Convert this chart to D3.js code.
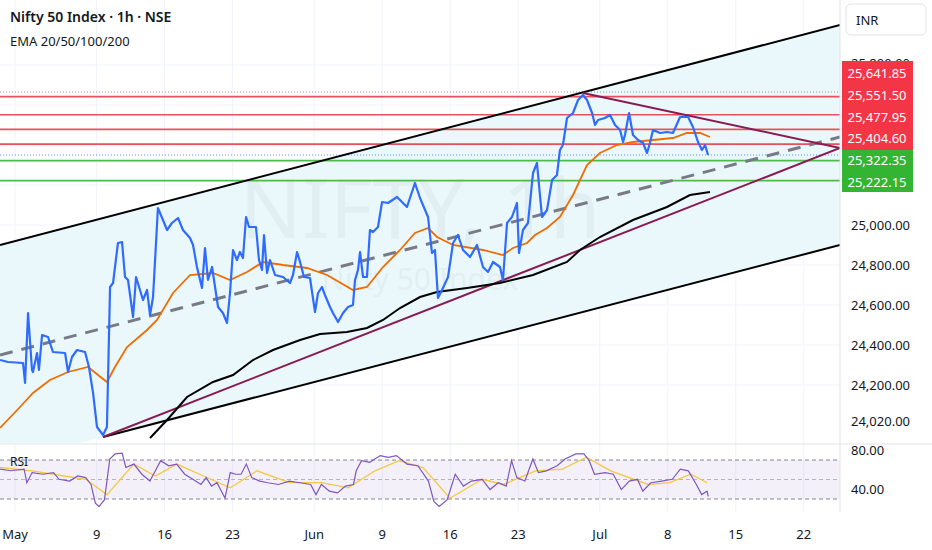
<!DOCTYPE html>
<html><head><meta charset="utf-8">
<script src="https://cdn.jsdelivr.net/npm/d3@7"></script>
<style>body{margin:0;background:#fff}svg{display:block;font-family:"Noto Sans",Roboto,sans-serif}</style>
</head><body><svg id="c" width="932" height="550"></svg>
<script>
// x in trading days from May 1
const xTicks=[["May",0],["9",6],["16",11],["23",16],["Jun",22],["9",27],["16",32],["23",37],["Jul",43],["8",48],["15",53],["22",58]];
const priceTicks=[25800,25000,24800,24600,24400,24200,24020];
const price=[[-1.10,24325],[-0.51,24315],[0.59,24310],[0.74,24210],[0.96,24560],[1.25,24275],[1.32,24265],[1.62,24360],[1.76,24275],[1.99,24450],[2.43,24440],[2.79,24365],[3.68,24360],[3.90,24265],[4.19,24340],[4.56,24375],[5.15,24365],[5.44,24290],[5.74,24160],[6.03,23990],[6.47,23950],[6.76,23990],[6.99,24690],[7.21,24710],[7.57,24910],[7.87,24915],[8.09,24740],[8.31,24725],[8.68,24540],[8.90,24740],[9.19,24675],[9.41,24625],[9.71,24675],[9.93,24550],[10.15,24640],[10.51,25085],[10.88,25025],[11.18,24975],[11.54,25010],[11.99,25035],[12.35,24975],[12.87,24935],[13.09,24900],[13.38,24790],[13.75,24685],[13.97,24885],[14.19,24725],[14.49,24790],[14.93,24590],[15.29,24560],[15.59,24510],[15.81,24660],[16.03,24875],[16.32,24825],[16.54,24865],[16.76,24835],[16.99,25040],[17.21,24990],[17.72,24990],[17.94,24825],[18.16,24775],[18.31,24950],[18.53,24760],[18.75,24825],[19.12,24750],[19.71,24740],[20.22,24710],[20.44,24750],[20.74,24865],[20.96,24815],[21.25,24740],[21.69,24735],[22.06,24565],[22.28,24660],[22.57,24690],[22.79,24650],[23.16,24590],[23.38,24560],[23.75,24515],[24.12,24560],[24.49,24590],[24.85,24600],[25.00,24725],[25.22,24775],[25.37,24865],[25.59,24740],[25.88,24740],[26.10,24975],[26.32,24965],[26.69,24990],[26.99,25115],[27.43,25110],[28.09,25140],[28.82,25090],[29.41,25210],[29.78,25135],[30.37,25040],[30.66,24860],[30.88,24875],[31.10,24635],[31.40,24675],[31.84,24740],[32.21,24910],[32.57,24950],[32.94,24875],[33.46,24840],[33.97,24900],[34.41,24790],[34.78,24765],[35.15,24815],[35.66,24790],[35.88,24725],[36.18,25010],[36.54,25040],[36.91,25110],[37.06,24860],[37.35,24975],[37.72,25010],[38.09,25260],[38.38,25310],[38.75,25040],[39.12,25075],[39.49,25225],[39.85,25250],[40.07,25375],[40.29,25400],[40.59,25535],[41.03,25560],[41.40,25625],[41.76,25650],[42.06,25625],[42.43,25560],[42.65,25500],[42.87,25525],[43.38,25535],[43.75,25550],[44.12,25500],[44.49,25475],[44.71,25415],[44.85,25450],[45.15,25560],[45.44,25450],[45.81,25425],[46.18,25410],[46.47,25360],[46.69,25410],[46.91,25475],[47.43,25460],[47.94,25465],[48.38,25460],[48.90,25540],[49.49,25540],[49.85,25490],[50.22,25415],[50.51,25375],[50.74,25400],[50.96,25350]];
const ema50=[[-1.10,23985],[0.37,24090],[1.32,24160],[2.57,24225],[3.90,24265],[5.37,24290],[6.76,24215],[7.35,24290],[8.24,24390],[9.71,24475],[10.44,24525],[11.62,24660],[12.87,24750],[14.56,24760],[15.81,24725],[17.06,24765],[18.24,24815],[19.71,24800],[21.47,24785],[22.94,24750],[24.85,24675],[25.88,24690],[27.06,24790],[28.31,24875],[29.41,24960],[30.37,24985],[31.03,24940],[32.21,24900],[34.41,24875],[35.88,24850],[36.62,24885],[37.65,24910],[38.24,24950],[39.12,24985],[40.07,25040],[41.03,25150],[42.06,25300],[43.01,25360],[44.26,25400],[45.44,25415],[46.91,25425],[48.38,25435],[49.41,25460],[50.37,25460],[51.10,25440]];
const ema200=[[9.93,23935],[11.18,24025],[12.65,24140],[14.56,24215],[16.03,24250],[17.50,24325],[18.97,24375],[20.96,24425],[22.43,24455],[24.41,24465],[25.88,24485],[27.06,24525],[28.31,24585],[29.78,24640],[31.03,24665],[33.24,24685],[35.66,24710],[38.09,24750],[40.59,24815],[41.54,24875],[43.01,24940],[45.44,25025],[47.94,25090],[49.63,25150],[51.10,25165]];
const chanUpper=[[-1.10,24900],[60.66,26000]];
const chanLower=[[6.47,23940],[60.66,24900]];
const chanMid=[[-1.10,24350],[60.66,25440]];
const purpleUp=[[6.47,23940],[60.66,25385]];
const purpleDown=[[41.76,25660],[60.66,25385]];
const resist=[25641.85,25551.50,25477.95,25404.60];
const support=[25322.35,25222.15];
const rsiTicks=[80,40];
const rsi=[[-1.10,60.6],[-0.31,59],[0.67,60.6],[0.87,46.7],[1.26,57.1],[2.05,55.4],[2.84,57.1],[3.23,50.2],[4.02,48.4],[4.61,53.6],[5.20,51.9],[5.59,44.9],[5.91,25.8],[6.18,22.3],[6.58,29.3],[6.97,71],[7.37,76.3],[7.88,77],[8.15,62.3],[8.74,65.8],[9.33,55.4],[9.92,48.4],[10.32,59],[10.71,69.3],[11.30,64.1],[11.89,65.8],[12.48,55.4],[13.08,50.2],[13.67,44.9],[14.06,51.9],[14.45,43.2],[14.85,46.7],[15.44,31],[15.83,57.1],[16.23,55.4],[16.62,55.4],[17.01,65.8],[17.41,51.9],[18.00,48.4],[18.59,46.7],[19.38,44.9],[20.17,48.4],[20.95,46.7],[21.74,44.9],[22.13,34.5],[22.53,44.9],[23.12,38],[23.71,36.2],[24.30,43.2],[24.89,44.9],[25.09,58.9],[25.48,69.3],[26.07,67.6],[26.86,74.5],[27.45,72.8],[28.04,74.5],[28.83,65.8],[29.62,64.1],[30.40,48.4],[30.80,27.5],[31.19,22.3],[31.78,29.3],[32.37,55.4],[32.97,43.2],[33.56,48.4],[34.35,50.2],[34.93,39.7],[35.53,46.7],[36.12,43.2],[36.51,69.3],[36.90,51.9],[37.49,48.4],[38.08,71],[38.48,57.1],[39.07,58.9],[39.86,64.1],[40.45,71],[41.24,76.3],[41.83,76.3],[42.22,69.3],[42.61,55.4],[43.40,57.1],[43.99,55.4],[44.58,39.7],[45.17,48.4],[45.77,50.2],[46.16,38],[46.75,46.7],[47.54,48.4],[48.33,50.2],[48.92,60.6],[49.51,58.9],[50.10,44.9],[50.49,34.5],[50.89,38],[50.97,32.8]];
const rsiMA=[[-1.10,62.3],[1.26,58.9],[3.62,53.6],[5.20,50.2],[6.77,34.5],[8.74,65.8],[10.32,53.6],[11.89,65.8],[13.86,53.6],[15.83,41.5],[17.80,58.9],[20.17,46.7],[22.53,46.7],[24.50,41.5],[26.47,58.9],[28.24,69.3],[30.01,62.3],[31.98,30.8],[34.35,50.2],[35.92,44.9],[38.28,58.9],[40.25,60.6],[42.02,72.8],[43.80,58.9],[46.55,44.9],[48.13,46.7],[49.70,55.4],[50.89,46.7]];

const svg=d3.select("#c");
const W=840, H=443;
const x=d3.scaleLinear().domain([0,58]).range([15,15+58*13.6]);
const y=d3.scaleLinear().domain([24200,25000]).range([385,225]);
const yr=d3.scaleLinear().domain([30,70]).range([499,460]);
const fmt=d3.format(",.2f");
const defs=svg.append("defs");
defs.append("clipPath").attr("id","cm").append("rect").attr("width",W).attr("height",H);
defs.append("clipPath").attr("id","cr").append("rect").attr("y",H+2).attr("width",W).attr("height",62);
defs.append("clipPath").attr("id","ct").append("rect").attr("x",W).attr("y",0).attr("width",92).attr("height",61);
// grid
const g=svg.append("g");
xTicks.forEach(t=>g.append("line").attr("x1",x(t[1])).attr("x2",x(t[1])).attr("y1",0).attr("y2",512).attr("stroke","#f0f3fa"));
[25800,25600,25400,25200,25000,24800,24600,24400,24200].forEach(v=>g.append("line").attr("x1",0).attr("x2",W).attr("y1",y(v)).attr("y2",y(v)).attr("stroke","#f0f3fa"));
const m=svg.append("g").attr("clip-path","url(#cm)");
const line=d3.line().x(d=>x(d[0])).y(d=>y(d[1]));
// channel fill
const ext=(p,xv)=>{const s=(p[1][1]-p[0][1])/(p[1][0]-p[0][0]);return [xv,p[0][1]+s*(xv-p[0][0])];};
m.append("path").attr("d",line([ext(chanUpper,-2),ext(chanUpper,61),ext(chanLower,61),ext(chanLower,-2)])).attr("fill","#e8f7fb").attr("opacity",0.9);
// watermark
m.append("text").attr("x",420).attr("y",238).attr("text-anchor","middle").attr("font-size",82).attr("fill","#000").attr("opacity",0.03).text("NIFTY, 1h");
m.append("text").attr("x",420).attr("y",290).attr("text-anchor","middle").attr("font-size",30).attr("fill","#000").attr("opacity",0.03).text("Nifty 50 Index");
// horizontal levels
m.append("line").attr("x1",0).attr("x2",W).attr("y1",92).attr("y2",92).attr("stroke","#999").attr("stroke-dasharray","1,2");
resist.forEach(v=>m.append("line").attr("x1",0).attr("x2",W).attr("y1",y(v)).attr("y2",y(v)).attr("stroke","#e8505e").attr("stroke-width",1.6));
support.forEach(v=>m.append("line").attr("x1",0).attr("x2",W).attr("y1",y(v)).attr("y2",y(v)).attr("stroke","#4cbb4c").attr("stroke-width",1.8));
m.append("line").attr("x1",0).attr("x2",W).attr("y1",y(25350)).attr("y2",y(25350)).attr("stroke","#2962ff").attr("stroke-dasharray","1,2").attr("opacity",0.7);
// drawings
m.append("path").attr("d",line(chanMid)).attr("stroke","#787b86").attr("stroke-width",3).attr("stroke-dasharray","13,9").attr("fill","none");
[chanUpper,chanLower].forEach(p=>m.append("path").attr("d",line(p)).attr("stroke","#000").attr("stroke-width",2).attr("fill","none"));
[purpleUp,purpleDown].forEach(p=>m.append("path").attr("d",line(p)).attr("stroke","#8a1a52").attr("stroke-width",2).attr("fill","none"));
m.append("path").attr("d",line(ema200)).attr("stroke","#000").attr("stroke-width",2).attr("fill","none");
m.append("path").attr("d",line(ema50)).attr("stroke","#ef6c00").attr("stroke-width",1.8).attr("fill","none");
m.append("path").attr("d",line(price)).attr("stroke","#2f6bff").attr("stroke-width",2.2).attr("fill","none").attr("stroke-linejoin","round");
// RSI pane
svg.append("line").attr("x1",0).attr("x2",932).attr("y1",H+1).attr("y2",H+1).attr("stroke","#e0e3eb");
const r=svg.append("g").attr("clip-path","url(#cr)");
r.append("rect").attr("x",0).attr("y",yr(70)).attr("width",W).attr("height",yr(30)-yr(70)).attr("fill","#7e57c2").attr("opacity",0.09);
[70,50,30].forEach(v=>r.append("line").attr("x1",0).attr("x2",W).attr("y1",yr(v)).attr("y2",yr(v)).attr("stroke","#787b86").attr("stroke-dasharray","4,3").attr("opacity",v==50?0.5:0.9));
const rl=d3.line().x(d=>x(d[0])).y(d=>yr(d[1]));
r.append("path").attr("d",rl(rsiMA)).attr("stroke","#f5c842").attr("stroke-width",1.3).attr("fill","none");
r.append("path").attr("d",rl(rsi)).attr("stroke","#7e57c2").attr("stroke-width",1.2).attr("fill","none");
svg.append("text").attr("x",10).attr("y",466).attr("font-size",12).attr("fill","#131722").text("RSI");
// right axis
svg.append("line").attr("x1",W).attr("x2",W).attr("y1",0).attr("y2",512).attr("stroke","#e0e3eb");
const at=svg.append("g");
priceTicks.forEach(v=>(v>25500?at.append("g").attr("clip-path","url(#ct)"):at).append("text").attr("x",851).attr("y",v>25500?y(v)+3:y(v)+5).attr("font-size",13).attr("fill","#131722").text(fmt(v)));
rsiTicks.forEach(v=>svg.append("text").attr("x",851).attr("y",yr(v)+5).attr("font-size",13).attr("fill","#131722").text(fmt(v)));
svg.append("rect").attr("x",842).attr("y",61).attr("width",71).attr("height",89).attr("fill","#f23645");
svg.append("rect").attr("x",842).attr("y",150).attr("width",71).attr("height",42).attr("fill","#33b533");
resist.concat(support).forEach((v,i)=>svg.append("text").attr("x",877).attr("y",78+i*21.8).attr("text-anchor","middle").attr("font-size",13).attr("fill","#fff").text(fmt(v)));
svg.append("rect").attr("x",846).attr("y",4).attr("width",80).attr("height",31).attr("rx",5).attr("fill","#fff").attr("stroke","#e0e3eb");
svg.append("text").attr("x",856).attr("y",25).attr("font-size",13).attr("fill","#131722").text("INR");
// x axis
xTicks.forEach(t=>svg.append("text").attr("x",x(t[1])).attr("y",539).attr("text-anchor","middle").attr("font-size",13).attr("fill","#131722").text(t[0]));
// titles
svg.append("text").attr("x",10).attr("y",22).attr("font-size",14).attr("font-weight",600).attr("fill","#131722").text("Nifty 50 Index · 1h · NSE");
svg.append("text").attr("x",10).attr("y",46).attr("font-size",13).attr("fill","#131722").text("EMA 20/50/100/200");
</script></body></html>
